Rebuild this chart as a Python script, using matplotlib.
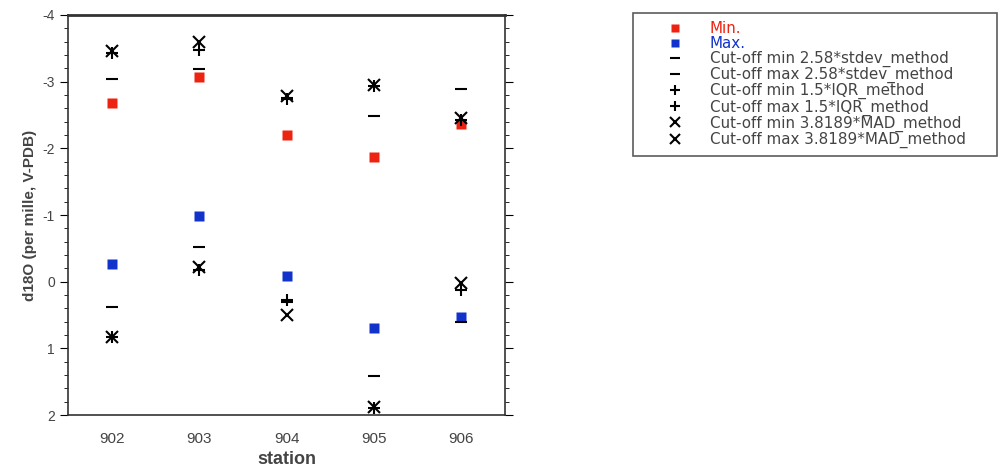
import matplotlib.pyplot as plt
from matplotlib.ticker import MultipleLocator

stations = [902, 903, 904, 905, 906]
d18o_min = [-2.68, -3.07, -2.20, -1.87, -2.37]
d18o_max = [-0.27, -0.99, -0.09, 0.69, 0.53]
sd_min = [-3.04, -3.19, -2.76, -2.49, -2.89]
sd_max = [0.38, -0.52, 0.30, 1.42, 0.60]
iqr_min = [-3.43, -3.48, -2.74, -2.93, -2.43]
iqr_max = [0.83, -0.18, 0.28, 1.90, 0.13]
mad_min = [-3.46, -3.59, -2.78, -2.95, -2.45]
mad_max = [0.83, -0.22, 0.50, 1.88, 0.02]

txt = '#444444'
plt.rcParams['font.family'] = ['Liberation Sans', 'DejaVu Sans']
plt.rcParams['axes.unicode_minus'] = False

fig = plt.figure(figsize=(10.01, 4.73), dpi=100)
ax = fig.add_axes([0.068, 0.1226, 0.4365, 0.8457])

ax.plot(stations, d18o_min, 's', color='#ee2211', ms=7.5, mec='none', label='Min.')
ax.plot(stations, d18o_max, 's', color='#1133cc', ms=7.5, mec='none', label='Max.')
ax.plot(stations, sd_min, '_', color='k', ms=8, mew=1.5, label='Cut-off min 2.58*stdev_method')
ax.plot(stations, sd_max, '_', color='k', ms=8, mew=1.5, label='Cut-off max 2.58*stdev_method')
ax.plot(stations, iqr_min, '+', color='k', ms=8, mew=1.5, label='Cut-off min 1.5*IQR_method')
ax.plot(stations, iqr_max, '+', color='k', ms=8, mew=1.5, label='Cut-off max 1.5*IQR_method')
ax.plot(stations, mad_min, 'x', color='k', ms=8, mew=1.5, label='Cut-off min 3.8189*MAD_method')
ax.plot(stations, mad_max, 'x', color='k', ms=8, mew=1.5, label='Cut-off max 3.8189*MAD_method')

ax.set_xlim(901.5, 906.5)
ax.set_ylim(2, -4)
ax.set_xticks(stations)
ax.yaxis.set_major_locator(MultipleLocator(1))
ax.yaxis.set_minor_locator(MultipleLocator(0.2))
ax.tick_params(axis='x', length=0, labelsize=11, labelcolor=txt, pad=12)
ax.tick_params(axis='y', which='both', right=True, direction='out', labelsize=10, labelcolor=txt)
ax.tick_params(axis='y', which='major', length=6)
ax.tick_params(axis='y', which='minor', length=3)
for s in ax.spines.values():
    s.set_color('#333333')
    s.set_linewidth(1.2)
ax.spines['top'].set_linewidth(2)

ax.set_xlabel('station', fontsize=13, fontweight='bold', color=txt, labelpad=4)
ax.set_ylabel('d18O (per mille, V-PDB)', fontsize=11, fontweight='bold', color=txt)

leg = fig.legend(loc='upper left', bbox_to_anchor=(0.632, 0.5, 0.364, 0.472),
                 mode='expand', prop={'family': 'DejaVu Sans', 'size': 10.9},
                 labelspacing=0.0, handletextpad=0.0, borderpad=0.5,
                 borderaxespad=0, fancybox=False, edgecolor='#333333',
                 handlelength=4.6, markerscale=0.85)
leg.get_frame().set_linewidth(1.2)
colors = ['#ee2211', '#1133cc'] + [txt] * 6
for t, c in zip(leg.get_texts(), colors):
    t.set_color(c)

fig.savefig('out.png', dpi=100)
